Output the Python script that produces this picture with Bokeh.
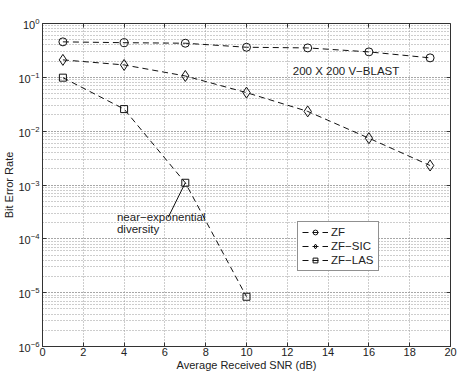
from bokeh.plotting import figure
from bokeh.models import (LinearAxis, LogAxis, Range1d, Legend, LegendItem,
                          FixedTicker, LogTicker, Label, ColumnDataSource,
                          CustomJSTickFormatter)
from bokeh.embed import file_html
from bokeh.resources import INLINE

snr = [1, 4, 7, 10, 13, 16, 19]
ber_zf = [0.456, 0.44, 0.43, 0.362, 0.352, 0.297, 0.23]
ber_sic = [0.211, 0.17, 0.106, 0.052, 0.0233, 0.0074, 0.0023]
snr_las = [1, 4, 7, 10]
ber_las = [0.0986, 0.0257, 0.0011, 8.4e-6]
x_ticks = [0, 2, 4, 6, 8, 10, 12, 14, 16, 18, 20]

FONT = "Liberation Sans"
p = figure(width=458, height=374, x_axis_type="linear", y_axis_type="log",
           x_range=Range1d(0, 20), y_range=Range1d(1e-6, 1),
           output_backend="svg", toolbar_location=None,
           min_border_left=41, min_border_right=8, min_border_top=23,
           min_border_bottom=28)
p.background_fill_color = "white"
p.outline_line_color = "#333333"

# axes
for ax in [p.xaxis[0], p.yaxis[0]]:
    ax.major_tick_in = 4
    ax.major_tick_out = 0
    ax.minor_tick_in = 0
    ax.minor_tick_out = 0
    ax.axis_line_color = "#333333"
    ax.major_tick_line_color = "#333333"
    ax.major_label_text_font = FONT
    ax.major_label_text_font_size = "11px"
    ax.major_label_text_color = "#222222"
    ax.axis_label_text_font = FONT
    ax.axis_label_text_font_size = "11px"
    ax.axis_label_text_font_style = "normal"
    ax.axis_label_text_color = "#222222"
    ax.major_label_standoff = 1
    ax.axis_label_standoff = 0

p.xaxis.ticker = FixedTicker(ticks=x_ticks)
p.yaxis.ticker = LogTicker(num_minor_ticks=10)
p.xaxis.axis_label = "Average Received SNR (dB)"
p.yaxis.axis_label = "Bit Error Rate"
p.yaxis.major_label_standoff = 3

blank = CustomJSTickFormatter(code="return ''")
# top/right box axes with inward ticks, pinned to the frame edges
top = LinearAxis(ticker=FixedTicker(ticks=x_ticks), major_tick_in=4, major_tick_out=0,
                 minor_tick_in=0, minor_tick_out=0, formatter=blank,
                 major_label_text_font_size="1px", axis_label_standoff=0,
                 major_label_standoff=0, axis_line_color="#333333",
                 major_tick_line_color="#333333", fixed_location=1)
right = LogAxis(ticker=LogTicker(num_minor_ticks=10), major_tick_in=4, major_tick_out=0,
                minor_tick_in=0, minor_tick_out=0, formatter=blank,
                major_label_text_font_size="1px", axis_label_standoff=0,
                major_label_standoff=0, axis_line_color="#333333",
                major_tick_line_color="#333333", fixed_location=20)
p.add_layout(top, "above")
p.add_layout(right, "right")

# grid
p.xgrid.grid_line_color = "#9a9a9a"
p.xgrid.grid_line_dash = "1 2"
p.ygrid.grid_line_color = "#9a9a9a"
p.ygrid.grid_line_dash = "1 2"
p.ygrid.minor_grid_line_color = "#9a9a9a"
p.ygrid.minor_grid_line_dash = "1 2"
p.xgrid.ticker = FixedTicker(ticks=x_ticks)

LC = "#111111"
src_zf = ColumnDataSource(dict(x=snr, y=ber_zf))
src_sic = ColumnDataSource(dict(x=snr, y=ber_sic))
src_las = ColumnDataSource(dict(x=snr_las, y=ber_las))

l1 = p.line("x", "y", source=src_zf, line_color=LC, line_dash="6 4", line_width=1)
m1 = p.scatter("x", "y", source=src_zf, marker="circle", size=8, fill_alpha=0,
               line_color=LC, line_width=1)
l2 = p.line("x", "y", source=src_sic, line_color=LC, line_dash="6 4", line_width=1)
m2 = p.scatter("x", "y", source=src_sic, marker="diamond", size=11, fill_alpha=0,
               line_color=LC, line_width=1)
l3 = p.line("x", "y", source=src_las, line_color=LC, line_dash="6 4", line_width=1)
m3 = p.scatter("x", "y", source=src_las, marker="square", size=7, fill_alpha=0,
               line_color=LC, line_width=1)

# annotation arrow line
p.line(x=[6.16, 7.0], y=[2.5e-4, 1.1e-3], line_color=LC, line_width=1)
p.add_layout(Label(x=3.65, y=2.5e-4, text="near\u2212exponential", text_font=FONT,
                   text_font_size="11.5px", text_color="#222222",
                   text_baseline="middle"))
p.add_layout(Label(x=3.65, y=1.55e-4, text="diversity", text_font=FONT,
                   text_font_size="11.5px", text_color="#222222",
                   text_baseline="middle"))
p.add_layout(Label(x=12.27, y=0.133, text="200 X 200 V\u2212BLAST", text_font=FONT,
                   text_font_size="11.5px", text_color="#222222",
                   text_baseline="middle"))

legend = Legend(items=[
    LegendItem(label="ZF", renderers=[l1, m1]),
    LegendItem(label="ZF\u2212SIC", renderers=[l2, m2]),
    LegendItem(label="ZF\u2212LAS", renderers=[l3, m3]),
], location=(255, 75), border_line_color="#222222", border_line_width=1,
    label_text_font=FONT, label_text_font_size="11.5px", label_text_color="#222222",
    glyph_width=26, glyph_height=12, spacing=2, padding=4, margin=0,
    label_standoff=3, background_fill_alpha=1)
p.add_layout(legend, "center")

open("out.html", "w").write(file_html(p, INLINE))
